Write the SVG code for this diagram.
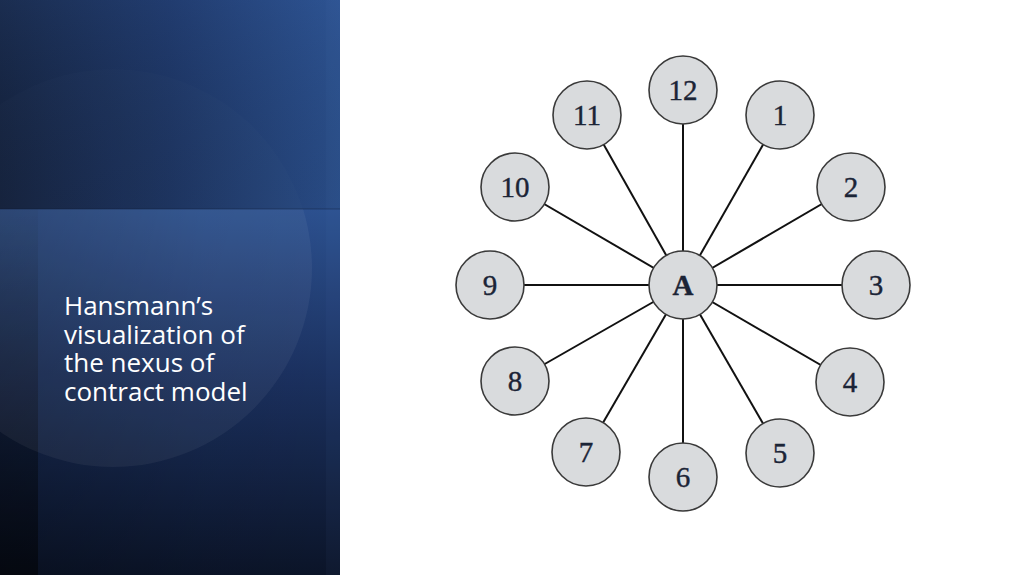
<svg xmlns="http://www.w3.org/2000/svg" width="1024" height="575" viewBox="0 0 1024 575">
  <defs>
    <linearGradient id="gTop" x1="0" y1="0" x2="340" y2="0" gradientUnits="userSpaceOnUse">
      <stop offset="0" stop-color="#15233f"/>
      <stop offset="0.5" stop-color="#1d3564"/>
      <stop offset="1" stop-color="#2b508d"/>
    </linearGradient>
    <linearGradient id="gTopV" x1="0" y1="0" x2="0" y2="209" gradientUnits="userSpaceOnUse">
      <stop offset="0" stop-color="#3a66b0" stop-opacity="0.15"/>
      <stop offset="1" stop-color="#000000" stop-opacity="0.06"/>
    </linearGradient>
    <linearGradient id="gBot" x1="0" y1="209" x2="0" y2="575" gradientUnits="userSpaceOnUse">
      <stop offset="0" stop-color="#2c5190"/>
      <stop offset="0.45" stop-color="#1b3160"/>
      <stop offset="1" stop-color="#0b1428"/>
    </linearGradient>
    <linearGradient id="gBotH" x1="0" y1="0" x2="340" y2="0" gradientUnits="userSpaceOnUse">
      <stop offset="0" stop-color="#000000" stop-opacity="0.22"/>
      <stop offset="0.6" stop-color="#000000" stop-opacity="0.04"/>
      <stop offset="1" stop-color="#000000" stop-opacity="0"/>
    </linearGradient>
    <linearGradient id="gStrip" x1="0" y1="209" x2="0" y2="575" gradientUnits="userSpaceOnUse">
      <stop offset="0" stop-color="#000000" stop-opacity="0.03"/>
      <stop offset="1" stop-color="#000000" stop-opacity="0.5"/>
    </linearGradient>
    <clipPath id="clipTop"><rect x="0" y="0" width="340" height="209"/></clipPath>
    <clipPath id="clipBot"><rect x="0" y="209" width="340" height="366"/></clipPath>
    <style>
      .edge { stroke: #111111; stroke-width: 2; fill: none; }
      .node circle { fill: #d9dbdd; stroke: #3a3a3a; stroke-width: 1.6; }
      .node text { font-family: "Liberation Serif", "Times New Roman", serif; font-size: 29px; fill: #1b2436; stroke: #1b2436; stroke-width: 0.4; text-anchor: middle; }
      .title { font-family: "Open Sans", "Noto Sans", sans-serif; font-size: 26px; fill: #ffffff; }
    </style>
  </defs>

  <rect x="0" y="0" width="1024" height="575" fill="#ffffff"/>

  <g id="side-panel">
    <rect x="0" y="0" width="340" height="209" fill="url(#gTop)"/>
    <rect x="0" y="0" width="340" height="209" fill="url(#gTopV)"/>
    <rect x="0" y="209" width="340" height="366" fill="url(#gBot)"/>
    <rect x="0" y="209" width="340" height="366" fill="url(#gBotH)"/>
    <rect x="0" y="209" width="38" height="366" fill="url(#gStrip)"/>
    <circle cx="113" cy="268" r="199" fill="#ffffff" fill-opacity="0.012" clip-path="url(#clipTop)"/>
    <circle cx="113" cy="268" r="199" fill="#ffffff" fill-opacity="0.05" clip-path="url(#clipBot)"/>
    <rect x="326" y="0" width="14" height="575" fill="#5a82c8" opacity="0.05"/>
    <line x1="0" y1="209" x2="340" y2="209" stroke="#0e1a33" stroke-width="1" opacity="0.4"/>
    <text class="title" x="64" y="315">Hansmann’s</text>
    <text class="title" x="64" y="344">visualization of</text>
    <text class="title" x="64" y="372">the nexus of</text>
    <text class="title" x="64" y="401">contract model</text>
  </g>

  <g id="connectors">
    <line class="edge" x1="683" y1="285" x2="683" y2="90"/>
    <line class="edge" x1="683" y1="285" x2="780" y2="115"/>
    <line class="edge" x1="683" y1="285" x2="851" y2="187"/>
    <line class="edge" x1="683" y1="285" x2="876" y2="285"/>
    <line class="edge" x1="683" y1="285" x2="850" y2="382"/>
    <line class="edge" x1="683" y1="285" x2="780" y2="453"/>
    <line class="edge" x1="683" y1="285" x2="683" y2="477"/>
    <line class="edge" x1="683" y1="285" x2="586" y2="452"/>
    <line class="edge" x1="683" y1="285" x2="515" y2="381"/>
    <line class="edge" x1="683" y1="285" x2="490" y2="285"/>
    <line class="edge" x1="683" y1="285" x2="515" y2="187"/>
    <line class="edge" x1="683" y1="285" x2="587" y2="115"/>
  </g>

  <g id="node-A" class="node"><circle cx="683" cy="285" r="34"/><text x="683" y="295" font-weight="bold">A</text></g>
  <g id="node-12" class="node"><circle cx="683" cy="90" r="34"/><text x="683" y="100">12</text></g>
  <g id="node-1" class="node"><circle cx="780" cy="115" r="34"/><text x="780" y="125">1</text></g>
  <g id="node-2" class="node"><circle cx="851" cy="187" r="34"/><text x="851" y="197">2</text></g>
  <g id="node-3" class="node"><circle cx="876" cy="285" r="34"/><text x="876" y="295">3</text></g>
  <g id="node-4" class="node"><circle cx="850" cy="382" r="34"/><text x="850" y="392">4</text></g>
  <g id="node-5" class="node"><circle cx="780" cy="453" r="34"/><text x="780" y="463">5</text></g>
  <g id="node-6" class="node"><circle cx="683" cy="477" r="34"/><text x="683" y="487">6</text></g>
  <g id="node-7" class="node"><circle cx="586" cy="452" r="34"/><text x="586" y="462">7</text></g>
  <g id="node-8" class="node"><circle cx="515" cy="381" r="34"/><text x="515" y="391">8</text></g>
  <g id="node-9" class="node"><circle cx="490" cy="285" r="34"/><text x="490" y="295">9</text></g>
  <g id="node-10" class="node"><circle cx="515" cy="187" r="34"/><text x="515" y="197">10</text></g>
  <g id="node-11" class="node"><circle cx="587" cy="115" r="34"/><text x="587" y="125">11</text></g>
</svg>
